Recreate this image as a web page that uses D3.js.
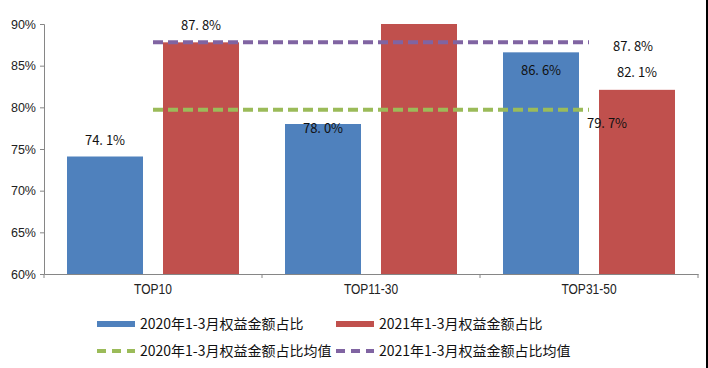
<!DOCTYPE html>
<html>
<head>
<meta charset="utf-8">
<script src="https://cdn.jsdelivr.net/npm/d3@7"></script>
<style>
  body { margin: 0; background: #fff; }
  svg { display: block; }
</style>
</head>
<body>
<svg id="chart" width="708" height="368"></svg>
<script>
// data
let categories = ['TOP10', 'TOP11-30', 'TOP31-50']
let share2020 = [74.1, 78.0, 86.6]
let share2021 = [87.8, 90.0, 82.1]
let mean2020 = 79.7
let mean2021 = 87.8
let yTicks = [60, 65, 70, 75, 80, 85, 90]
let seriesNames = ['2020年1-3月权益金额占比', '2021年1-3月权益金额占比',
                   '2020年1-3月权益金额占比均值', '2021年1-3月权益金额占比均值']

let colors = { blue: '#4f81bd', red: '#c0504d', green: '#9bbb59', purple: '#8064a2' }
let cjk = '"Noto Sans CJK SC", sans-serif'

let svg = d3.select('#chart')

let x = d3.scaleBand().domain(categories).range([44, 698])
let y = d3.scaleLinear().domain([60, 90]).range([274, 24]).clamp(true)

let barW = 76
let gapIn = 20
let edge = (x.bandwidth() - 2 * barW - gapIn) / 2

// y axis
let yAxis = svg.append('g')
  .attr('transform', 'translate(44,0)')
  .call(d3.axisLeft(y).tickValues(yTicks).tickSize(4).tickFormat(d => d + '%'))
yAxis.selectAll('path, line').attr('stroke', '#868686')
yAxis.selectAll('text')
  .attr('font-family', '"Liberation Sans", Arial, sans-serif')
  .attr('font-size', 12.5).attr('fill', '#222').attr('dx', -1)

// bars
let bars = svg.append('g')
bars.selectAll('.b20').data(categories).enter().append('rect')
  .attr('x', (c) => x(c) + edge)
  .attr('y', (c, i) => y(share2020[i]))
  .attr('width', barW)
  .attr('height', (c, i) => y(60) - y(share2020[i]))
  .attr('fill', colors.blue)
bars.selectAll('.b21').data(categories).enter().append('rect')
  .attr('x', (c) => x(c) + edge + barW + gapIn)
  .attr('y', (c, i) => y(share2021[i]))
  .attr('width', barW)
  .attr('height', (c, i) => y(60) - y(share2021[i]))
  .attr('fill', colors.red)

// x axis
let xAxis = svg.append('g')
  .attr('transform', 'translate(0,274)')
  .call(d3.axisBottom(x).tickSize(0).tickPadding(9))
xAxis.select('path').attr('stroke', '#868686')
xAxis.selectAll('text')
  .attr('font-family', '"Liberation Sans", Arial, sans-serif')
  .attr('font-size', 15).attr('fill', '#222')
  .attr('transform', 'scale(0.8,1)')
svg.append('g').selectAll('line').data(x.domain().map(c => x(c)).concat([x.range()[1]]))
  .enter().append('line')
  .attr('x1', d => d).attr('x2', d => d)
  .attr('y1', 274).attr('y2', 278)
  .attr('stroke', '#868686')

// mean lines, from first to last category centre
let centres = categories.map(c => x(c) + x.bandwidth() / 2)
let meanLine = (val, col) => {
  svg.append('line')
    .attr('x1', centres[0]).attr('x2', centres[centres.length - 1])
    .attr('y1', y(val)).attr('y2', y(val))
    .attr('stroke', col).attr('stroke-width', 4)
    .attr('stroke-dasharray', '10,5')
}
meanLine(mean2020, colors.green)
meanLine(mean2021, colors.purple)

// value labels
let fmt = v => v.toFixed(1).replace('.', '. ') + '%'
let labels = svg.append('g')
  .attr('font-family', cjk).attr('font-size', 13).attr('fill', '#111')
  .attr('text-anchor', 'middle')
let lab = (tx, ty, t) => labels.append('text').attr('x', tx).attr('y', ty).attr('dy', '0.35em').text(t)

lab(x('TOP10') + edge + barW / 2, y(share2020[0]) - 16, fmt(share2020[0]))
lab(x('TOP10') + edge + barW * 1.5 + gapIn, y(share2021[0]) - 17, fmt(share2021[0]))
lab(x('TOP11-30') + edge + barW / 2, y(share2020[1]) + 4, fmt(share2020[1]))
lab(x('TOP31-50') + edge + barW / 2, y(share2020[2]) + 18, fmt(share2020[2]))
lab(x('TOP31-50') + edge + barW * 1.5 + gapIn, y(share2021[2]) - 17, fmt(share2021[2]))
lab(centres[2] + 44, y(mean2021) + 4, fmt(mean2021))
lab(centres[2] + 18, y(mean2020) + 14, fmt(mean2020))

// legend
let legend = svg.append('g').attr('font-family', cjk).attr('font-size', 14).attr('fill', '#111')
let legendItems = [
  { name: seriesNames[0], col: colors.blue, kind: 'bar', lx: 97, ly: 324 },
  { name: seriesNames[1], col: colors.red, kind: 'bar', lx: 336, ly: 324 },
  { name: seriesNames[2], col: colors.green, kind: 'line', lx: 97, ly: 351 },
  { name: seriesNames[3], col: colors.purple, kind: 'line', lx: 336, ly: 351 }
]
legendItems.forEach(it => {
  if (it.kind === 'bar') {
    legend.append('rect').attr('x', it.lx).attr('y', it.ly - 3)
      .attr('width', 38).attr('height', 6).attr('fill', it.col)
  } else {
    legend.append('line').attr('x1', it.lx).attr('x2', it.lx + 38)
      .attr('y1', it.ly).attr('y2', it.ly)
      .attr('stroke', it.col).attr('stroke-width', 4).attr('stroke-dasharray', '9,6')
  }
  legend.append('text').attr('x', it.lx + 43).attr('y', it.ly).attr('dy', '0.35em').text(it.name)
})

// dark strip on the right edge of the screenshot
svg.append('rect').attr('x', 706).attr('y', 0).attr('width', 2).attr('height', 368).attr('fill', '#000')
</script>
</body>
</html>
